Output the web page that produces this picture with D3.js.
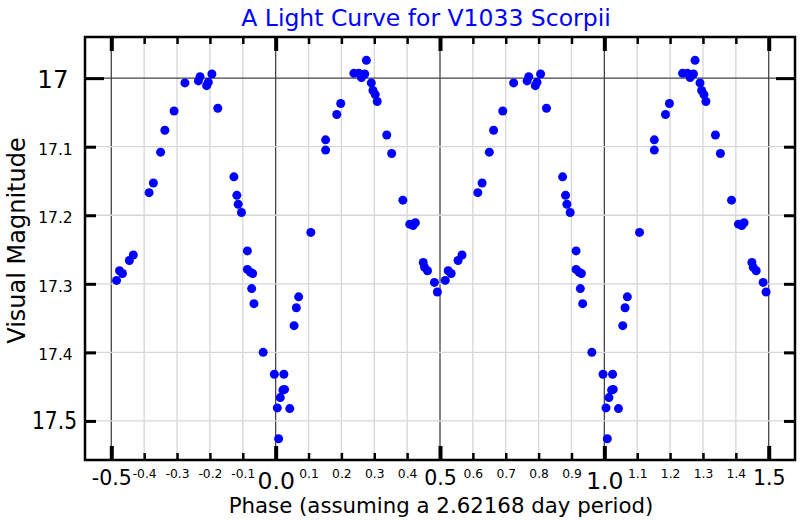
<!DOCTYPE html>
<html><head><meta charset="utf-8">
<script src="https://cdn.jsdelivr.net/npm/d3@7"></script>
<style>body{margin:0;background:#fff}svg{display:block}</style>
</head><body><svg id="c" width="800" height="520"></svg>
<script>
// One cycle of observations: phase (0..1) and visual magnitude
const phases = [0.005,0.009,0.014,0.022,0.025,0.027,0.043,0.056,0.063,0.070,0.107,0.152,0.152,0.186,0.198,
  0.238,0.253,0.261,0.271,0.276,0.291,0.296,0.303,0.309,0.338,0.353,0.387,0.408,0.418,0.425,0.449,0.453,0.462,
  0.483,0.492,0.516,0.525,0.534,0.555,0.567,0.615,0.628,0.650,0.663,0.691,0.724,0.765,0.770,0.790,0.795,0.806,
  0.824,0.873,0.882,0.886,0.896,0.914,0.914,0.923,0.930,0.927,0.934,0.962,0.996];
const magnitudes = [17.481,17.526,17.466,17.455,17.432,17.454,17.482,17.361,17.335,17.319,17.225,17.090,17.105,17.053,17.037,
  16.993,16.993,16.999,16.994,16.974,17.007,17.018,17.024,17.034,17.083,17.110,17.178,17.213,17.215,17.211,17.269,17.276,17.281,
  17.298,17.312,17.295,17.281,17.285,17.266,17.258,17.167,17.153,17.108,17.076,17.048,17.007,17.004,16.998,17.011,17.006,16.994,
  17.044,17.144,17.171,17.184,17.196,17.252,17.279,17.283,17.285,17.307,17.329,17.400,17.432];
const cycleShifts = [-1, 0, 1];
const xTickValues = [-0.5,-0.4,-0.3,-0.2,-0.1,0.0,0.1,0.2,0.3,0.4,0.5,0.6,0.7,0.8,0.9,1.0,1.1,1.2,1.3,1.4,1.5];
const xTickLabels = ["-0.5","-0.4","-0.3","-0.2","-0.1","0.0","0.1","0.2","0.3","0.4","0.5","0.6","0.7","0.8","0.9","1.0","1.1","1.2","1.3","1.4","1.5"];
const xMajorTicks = [-0.5,0.0,0.5,1.0,1.5];
const yTickValues = [17.0,17.1,17.2,17.3,17.4,17.5];
const yTickLabels = ["17","17.1","17.2","17.3","17.4","17.5"];
const titleText = "A Light Curve for V1033 Scorpii";
const xTitle = "Phase (assuming a 2.62168 day period)";
const yTitle = "Visual Magnitude";

const svg = d3.select("#c");
const L = 85, R = 795, T = 37, B = 460;
const x = d3.scaleLinear().domain([-0.58, 1.58]).range([L, R]);
const y = d3.scaleLinear().domain([16.94, 17.557]).range([T, B]);
const FONT = "DejaVu Sans, sans-serif";
const isMajor = v => xMajorTicks.some(m => Math.abs(m - v) < 1e-9);

svg.append("rect").attr("width", 800).attr("height", 520).attr("fill", "#fff");

// grid
const grid = svg.append("g");
grid.selectAll("line.vx").data(xTickValues).join("line")
  .attr("x1", d => x(d)).attr("x2", d => x(d)).attr("y1", T).attr("y2", B)
  .attr("stroke", d => isMajor(d) ? "#444" : "#d6d6d6")
  .attr("stroke-width", 1.3);
grid.selectAll("line.hy").data(yTickValues).join("line")
  .attr("x1", L).attr("x2", R).attr("y1", d => y(d)).attr("y2", d => y(d))
  .attr("stroke", d => d === 17 ? "#444" : "#d6d6d6")
  .attr("stroke-width", 1.3);

// points: each observation shown in every cycle copy inside [-0.5, 1.5]
const pts = [];
phases.forEach((p, i) => cycleShifts.forEach(s => {
  const ph = p + s;
  if (ph >= -0.5 && ph <= 1.5) pts.push({ph, m: magnitudes[i]});
}));
svg.append("g").selectAll("circle").data(pts).join("circle")
  .attr("cx", d => x(d.ph)).attr("cy", d => y(d.m)).attr("r", 4.5).attr("fill", "#0000ff");

// frame
svg.append("rect").attr("x", L).attr("y", T).attr("width", R - L).attr("height", B - T)
  .attr("fill", "none").attr("stroke", "#000").attr("stroke-width", 2.5);

// x axes (ticks inward)
function styleXTicks(g, dir) {
  g.select(".domain").remove();
  g.selectAll(".tick line")
    .attr("y2", d => dir * (isMajor(d) ? 14 : 7))
    .attr("stroke", "#000")
    .attr("stroke-width", d => isMajor(d) ? 4 : 2.5);
}
const xb = svg.append("g").attr("transform", `translate(0,${B})`)
  .call(d3.axisBottom(x).tickValues(xTickValues).tickSizeOuter(0)
    .tickFormat((d, i) => xTickLabels[i]));
styleXTicks(xb, -1);
xb.selectAll(".tick text")
  .attr("font-family", FONT).attr("fill", "#000").attr("dy", 0)
  .attr("font-size", d => isMajor(d) ? (Math.abs(d - Math.round(d)) < 1e-9 ? 23.5 : 20.5) : 12.3)
  .attr("y", d => isMajor(d) ? (Math.abs(d - Math.round(d)) < 1e-9 ? 28.5 : 25.3) : 17.8);

const xt = svg.append("g").attr("transform", `translate(0,${T})`)
  .call(d3.axisTop(x).tickValues(xTickValues).tickSizeOuter(0).tickFormat(""));
styleXTicks(xt, 1);

// y axes
function styleYTicks(g, dir) {
  g.select(".domain").remove();
  g.selectAll(".tick line")
    .attr("x2", d => dir * (d === 17 ? 19 : 11))
    .attr("stroke", "#000").attr("stroke-width", 3);
}
const yl = svg.append("g").attr("transform", `translate(${L},0)`)
  .call(d3.axisLeft(y).tickValues(yTickValues).tickSizeOuter(0)
    .tickFormat((d, i) => yTickLabels[i]));
styleYTicks(yl, 1);
yl.selectAll(".tick text")
  .attr("font-family", FONT).attr("fill", "#000").attr("text-anchor", "end").attr("dy", 0)
  .attr("x", d => d === 17 ? -16.5 : (d === 17.5 ? -8 : -12.3))
  .attr("y", d => d === 17 ? 9 : (d === 17.5 ? 7.5 : 7.3))
  .attr("font-size", d => d === 17 ? 24.5 : (d === 17.5 ? 24 : 15.5))
  .each(function(d) { if (d === 17.5) d3.select(this).attr("textLength", 45).attr("lengthAdjust", "spacingAndGlyphs"); });

const yr = svg.append("g").attr("transform", `translate(${R},0)`)
  .call(d3.axisRight(y).tickValues(yTickValues).tickSizeOuter(0).tickFormat(""));
styleYTicks(yr, -1);

// titles
svg.append("text").attr("x", 426).attr("y", 25.5).attr("text-anchor", "middle")
  .attr("font-family", FONT).attr("font-size", 23.5).attr("fill", "#0000ff").text(titleText);
svg.append("text").attr("x", 441).attr("y", 513).attr("text-anchor", "middle")
  .attr("font-family", FONT).attr("font-size", 21.3).attr("fill", "#000").text(xTitle);
svg.append("text").attr("transform", "translate(25,240.5) rotate(-90)").attr("text-anchor", "middle")
  .attr("font-family", FONT).attr("font-size", 24).attr("fill", "#000").text(yTitle);
</script></body></html>
